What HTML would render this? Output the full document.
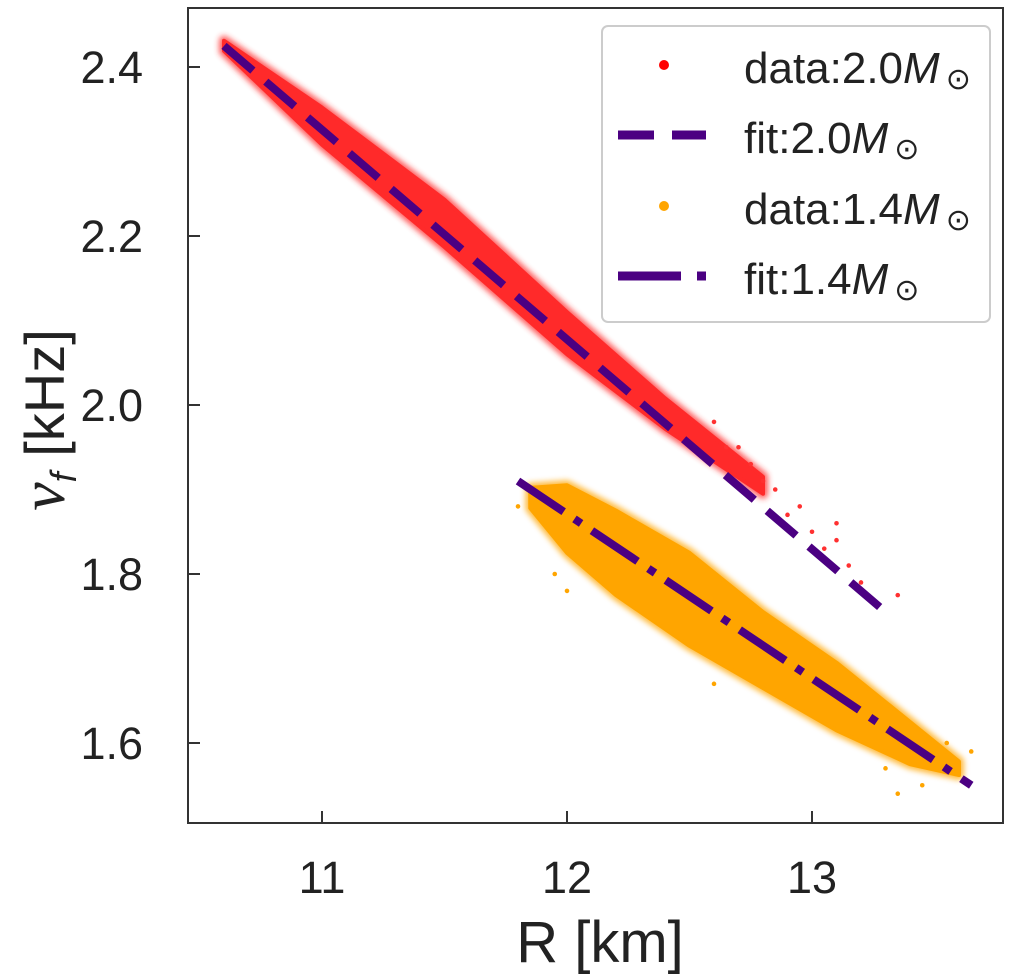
<!DOCTYPE html>
<html><head><meta charset="utf-8"><style>
body{margin:0;background:#fff;}
svg{display:block;font-family:"Liberation Sans","DejaVu Sans",sans-serif;}
</style></head><body>
<svg id="chart" width="1018" height="979" viewBox="0 0 1018 979">
<defs><filter id="blur" x="-5%" y="-5%" width="110%" height="110%"><feGaussianBlur stdDeviation="3"/></filter></defs>
<g id="plot"></g>
<g id="axes"></g>
</svg>
<script>
// tick data
const xTicks=[11,12,13];
const yTicks=[1.6,1.8,2.0,2.2,2.4];
const yTickLabels=["1.6","1.8","2.0","2.2","2.4"];
// red (2.0 Msun) scatter band
const redX=[10.6,11.0,11.5,12.0,12.4,12.8];
const redCenter=[2.425,2.33,2.215,2.085,1.99,1.905];
const redHalf=[0.006,0.022,0.028,0.025,0.018,0.01];
const redOutX=[12.85,12.9,12.95,13.0,13.05,13.1,13.1,13.15,13.2,13.35,12.75,12.7,12.8,12.6,12.65];
const redOutY=[1.90,1.87,1.88,1.85,1.83,1.84,1.86,1.81,1.79,1.775,1.93,1.95,1.91,1.98,1.95];
// orange (1.4 Msun) scatter band
const orX=[11.85,12.0,12.2,12.5,12.8,13.1,13.4,13.6];
const orCenter=[1.89,1.865,1.825,1.77,1.71,1.655,1.60,1.57];
const orHalf=[0.012,0.04,0.05,0.055,0.045,0.04,0.025,0.008];
const orOutX=[11.8,11.95,13.45,13.5,13.55,13.65,13.3,13.35,12.0,12.6];
const orOutY=[1.88,1.80,1.55,1.59,1.60,1.59,1.57,1.54,1.78,1.67];
// fits
const fit20X=[10.6,13.3];const fit20Y=[2.425,1.755];
const fit14X=[11.8,13.65];const fit14Y=[1.91,1.55];

const X0=188,X1=1003,Y0=8,Y1=823;
const sx=v=>322+(v-11)*245;
const sy=v=>405-(v-2.0)*845;
const NS="http://www.w3.org/2000/svg";
const plot=document.getElementById('plot'),axes=document.getElementById('axes');
function mk(tag,attrs,parent){const e=document.createElementNS(NS,tag);for(const k in attrs)e.setAttribute(k,attrs[k]);parent.appendChild(e);return e;}

function band(xs,c,h,color,name){
  let top=xs.map((x,i)=>sx(x)+','+sy(c[i]+h[i]));
  let bot=xs.map((x,i)=>sx(x)+','+sy(c[i]-h[i])).reverse();
  const p=mk('polygon',{points:top.concat(bot).join(' '),fill:color,stroke:color,'stroke-width':10,'stroke-linejoin':'round',filter:'url(#blur)',opacity:0.75},plot);
  
  
  const p2=mk('polygon',{points:top.concat(bot).join(' '),fill:color,stroke:color,'stroke-width':4,'stroke-linejoin':'round'},plot);
  
  
}
function pts(xs,ys,color,name){
  xs.forEach((x,i)=>{const c=mk('circle',{cx:sx(x),cy:sy(ys[i]),r:2.3,fill:color},plot);
    
    });
}
band(redX,redCenter,redHalf,'#ff2a2a','scatter-2.0');
pts(redOutX,redOutY,'#ff3030','scatter-2.0-point');
band(orX,orCenter,orHalf,'#ffa500','scatter-1.4');
pts(orOutX,orOutY,'#ffa500','scatter-1.4-point');
const l1=mk('line',{x1:sx(fit20X[0]),y1:sy(fit20Y[0]),x2:sx(fit20X[1]),y2:sy(fit20Y[1]),stroke:'#4b0082','stroke-width':8,'stroke-dasharray':'38 17'},plot);


const l2=mk('line',{x1:sx(fit14X[0]),y1:sy(fit14Y[0]),x2:sx(fit14X[1]),y2:sy(fit14Y[1]),stroke:'#4b0082','stroke-width':8,'stroke-dasharray':'55 13 8 13'},plot);



// frame
const fr=mk('rect',{x:X0,y:Y0,width:X1-X0,height:Y1-Y0,fill:'none',stroke:'#333',"stroke-width":2},axes);


xTicks.forEach(v=>{
  const t=mk('line',{x1:sx(v),x2:sx(v),y1:Y1,y2:Y1-12,stroke:'#333','stroke-width':2},axes);
  
  
  const l=mk('text',{x:sx(v),y:Y1+70,'text-anchor':'middle','font-size':45,fill:'#222'},axes);l.textContent=String(v);
  
  
});
yTicks.forEach((v,i)=>{
  const t=mk('line',{x1:X0,x2:X0+12,y1:sy(v),y2:sy(v),stroke:'#333','stroke-width':2},axes);
  
  
  const l=mk('text',{x:X0-45,y:sy(v)+16,'text-anchor':'end','font-size':45,fill:'#222'},axes);l.textContent=yTickLabels[i];
  
  
});
</script>
<svg style="position:absolute;left:0;top:0" width="1018" height="979">
<text x="600" y="962" text-anchor="middle" font-size="58" fill="#222" font-family="Liberation Sans, sans-serif">R [km]</text>
<text transform="translate(64,420) rotate(-90)" text-anchor="middle" font-size="56" fill="#222" font-family="Liberation Sans, sans-serif"><tspan font-style="italic" font-family="Liberation Serif, serif" font-size="64">ν</tspan><tspan font-style="italic" font-size="36" dy="12">f</tspan><tspan dy="-12"> [kHz]</tspan></text>
<g font-family="Liberation Sans, sans-serif" fill="#222">
<rect x="602" y="26" width="388" height="296" rx="6" fill="#fff" fill-opacity="0.85" stroke="#ccc" stroke-width="2"/>
<circle cx="664" cy="65" r="5" fill="#ff0000"/>
<text x="744" y="83" font-size="44">data:2.0<tspan font-style="italic">M</tspan><tspan font-size="30" dx="6" dy="6">⊙</tspan></text>
<line x1="618" y1="135" x2="706" y2="135" stroke="#4b0082" stroke-width="9" stroke-dasharray="36 18"/>
<text x="744" y="153" font-size="44">fit:2.0<tspan font-style="italic">M</tspan><tspan font-size="30" dx="6" dy="6">⊙</tspan></text>
<circle cx="664" cy="206" r="5" fill="#ffa500"/>
<text x="744" y="224" font-size="44">data:1.4<tspan font-style="italic">M</tspan><tspan font-size="30" dx="6" dy="6">⊙</tspan></text>
<line x1="618" y1="276" x2="681" y2="276" stroke="#4b0082" stroke-width="9"/>
<line x1="697" y1="276" x2="706" y2="276" stroke="#4b0082" stroke-width="9"/>
<text x="744" y="294" font-size="44">fit:1.4<tspan font-style="italic">M</tspan><tspan font-size="30" dx="6" dy="6">⊙</tspan></text>
</g>
</svg>
</body></html>
